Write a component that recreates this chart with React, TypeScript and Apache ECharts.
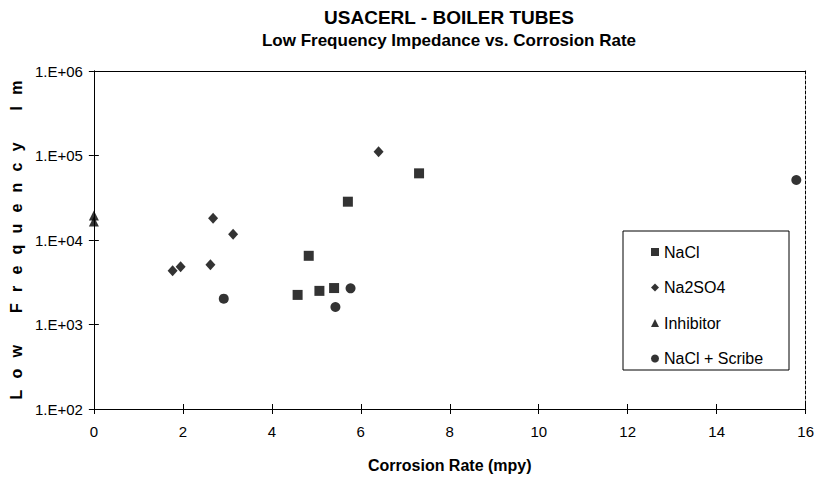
import React, { useEffect, useRef } from "react";
import * as echarts from "echarts";

const titleLine1 = "USACERL - BOILER TUBES";
const titleLine2 = "Low Frequency Impedance vs. Corrosion Rate";
const xName = "Corrosion Rate (mpy)";
const yName = "L\u2002\u2009o\u2002\u2009w\u2003\u2003F\u2002\u2009r\u2002\u2009e\u2002\u2009q\u2002\u2009u\u2002\u2009e\u2002\u2009n\u2002\u2009c\u2002\u2009y\u2003\u2003I\u2002\u2009m";

const seriesNames = ["NaCl", "Na2SO4", "Inhibitor", "NaCl + Scribe"];
const seriesSymbols = ["rect", "diamond", "triangle", "circle"];
const seriesSizes = [10, [10, 11], 10, 10];

// [corrosion rate (mpy), low frequency impedance]
const naclData = [
  [4.58, 2240],
  [4.83, 6500],
  [5.07, 2500],
  [5.4, 2700],
  [5.71, 28400],
  [7.31, 61500],
];
const na2so4Data = [
  [1.77, 4330],
  [1.95, 4830],
  [2.62, 5100],
  [2.68, 18100],
  [3.13, 11700],
  [6.4, 111000],
];
const inhibitorData = [
  [0, 19500],
  [0, 16500],
];
const scribeData = [
  [2.92, 2020],
  [5.43, 1610],
  [5.77, 2680],
  [15.79, 51300],
];
const allData = [naclData, na2so4Data, inhibitorData, scribeData];

const xMin = 0;
const xMax = 16;
const xInterval = 2;
const yMin = 100;
const yMax = 1000000;

const FONT = "'Liberation Sans', Arial, Helvetica, sans-serif";

export default function App() {
  const ref = useRef<HTMLDivElement>(null);

  useEffect(() => {
    if (!ref.current) return;
    const chart = echarts.init(ref.current, undefined, { renderer: "svg" });

    const yFmt = (v: number) => {
      const e = Math.round(Math.log10(v));
      return "1.E+" + String(e).padStart(2, "0");
    };

    const baseX = {
      type: "value" as const,
      min: xMin,
      max: xMax,
      interval: xInterval,
      splitLine: { show: false },
      axisLine: { show: true, onZero: false, lineStyle: { color: "#000", width: 1 } },
    };
    const baseY = {
      type: "log" as const,
      logBase: 10,
      min: yMin,
      max: yMax,
      splitLine: { show: false },
      axisLine: { show: true, onZero: false, lineStyle: { color: "#000", width: 1 } },
    };

    chart.setOption({
      animation: false,
      backgroundColor: "#fff",
      textStyle: { fontFamily: FONT, color: "#000" },
      title: {
        text: "{a|" + titleLine1 + "}\n{b|" + titleLine2 + "}",
        left: 449,
        top: 6,
        padding: 0,
        textAlign: "center",
        textStyle: {
          fontFamily: FONT,
          fontWeight: "bold",
          fontSize: 17,
          color: "#000",
          rich: {
            a: { fontFamily: FONT, fontWeight: "bold", fontSize: 19, lineHeight: 23, color: "#000" },
            b: { fontFamily: FONT, fontWeight: "bold", fontSize: 17, lineHeight: 22, color: "#000" },
          },
        },
      },
      grid: { left: 92, right: 10, top: 71, bottom: 72, containLabel: false },
      xAxis: [
        {
          ...baseX,
          position: "bottom",
          axisTick: { show: true, inside: false, length: 5, lineStyle: { color: "#000" } },
          axisLabel: { show: true, fontSize: 15, fontFamily: FONT, color: "#000", margin: 15 },
          name: xName,
          nameLocation: "middle",
          nameGap: 48,
          nameTextStyle: { fontFamily: FONT, fontWeight: "bold", fontSize: 16, color: "#000" },
        },
        {
          ...baseX,
          position: "bottom",
          axisTick: { show: true, inside: true, length: 5, lineStyle: { color: "#000" } },
          axisLabel: { show: false },
        },
        {
          ...baseX,
          position: "top",
          axisTick: { show: false },
          axisLabel: { show: false },
        },
      ],
      yAxis: [
        {
          ...baseY,
          position: "left",
          axisTick: { show: true, inside: false, length: 5, lineStyle: { color: "#000" } },
          axisLabel: {
            show: true,
            fontSize: 15,
            fontFamily: FONT,
            color: "#000",
            margin: 11,
            padding: [4, 0, 0, 0],
            formatter: yFmt,
          },
          name: yName,
          nameLocation: "middle",
          nameRotate: 90,
          nameGap: 68,
          nameTextStyle: { fontFamily: FONT, fontWeight: "bold", fontSize: 16, color: "#000" },
        },
        {
          ...baseY,
          position: "left",
          axisTick: { show: true, inside: true, length: 5, lineStyle: { color: "#000" } },
          axisLabel: { show: false },
        },
        {
          ...baseY,
          position: "right",
          axisLine: { show: true, onZero: false, lineStyle: { color: "#000", width: 1, type: [3, 2] } },
          axisTick: { show: false },
          axisLabel: { show: false },
        },
      ],
      legend: {
        orient: "vertical",
        left: 651,
        top: 243,
        padding: 0,
        itemWidth: 8,
        itemHeight: 8,
        itemGap: 17.5,
        data: seriesNames,
        textStyle: { fontFamily: FONT, fontSize: 16, color: "#000", lineHeight: 18 },
      },
      graphic: [
        {
          type: "rect",
          shape: { x: 623, y: 231, width: 166, height: 139 },
          style: { fill: "#fff", stroke: "#000", lineWidth: 1 },
          z: 0,
          silent: true,
        },
      ],
      series: seriesNames.map((name, i) => ({
        name,
        type: "scatter",
        xAxisIndex: 0,
        yAxisIndex: 0,
        symbol: seriesSymbols[i],
        symbolSize: seriesSizes[i],
        itemStyle: { color: "#000" },
        data: allData[i],
        z: 5,
      })),
    });

    return () => chart.dispose();
  }, []);

  return (
    <div
      ref={ref}
      style={{ position: "fixed", left: 0, top: 0, width: 817, height: 481, background: "#fff" }}
    />
  );
}
